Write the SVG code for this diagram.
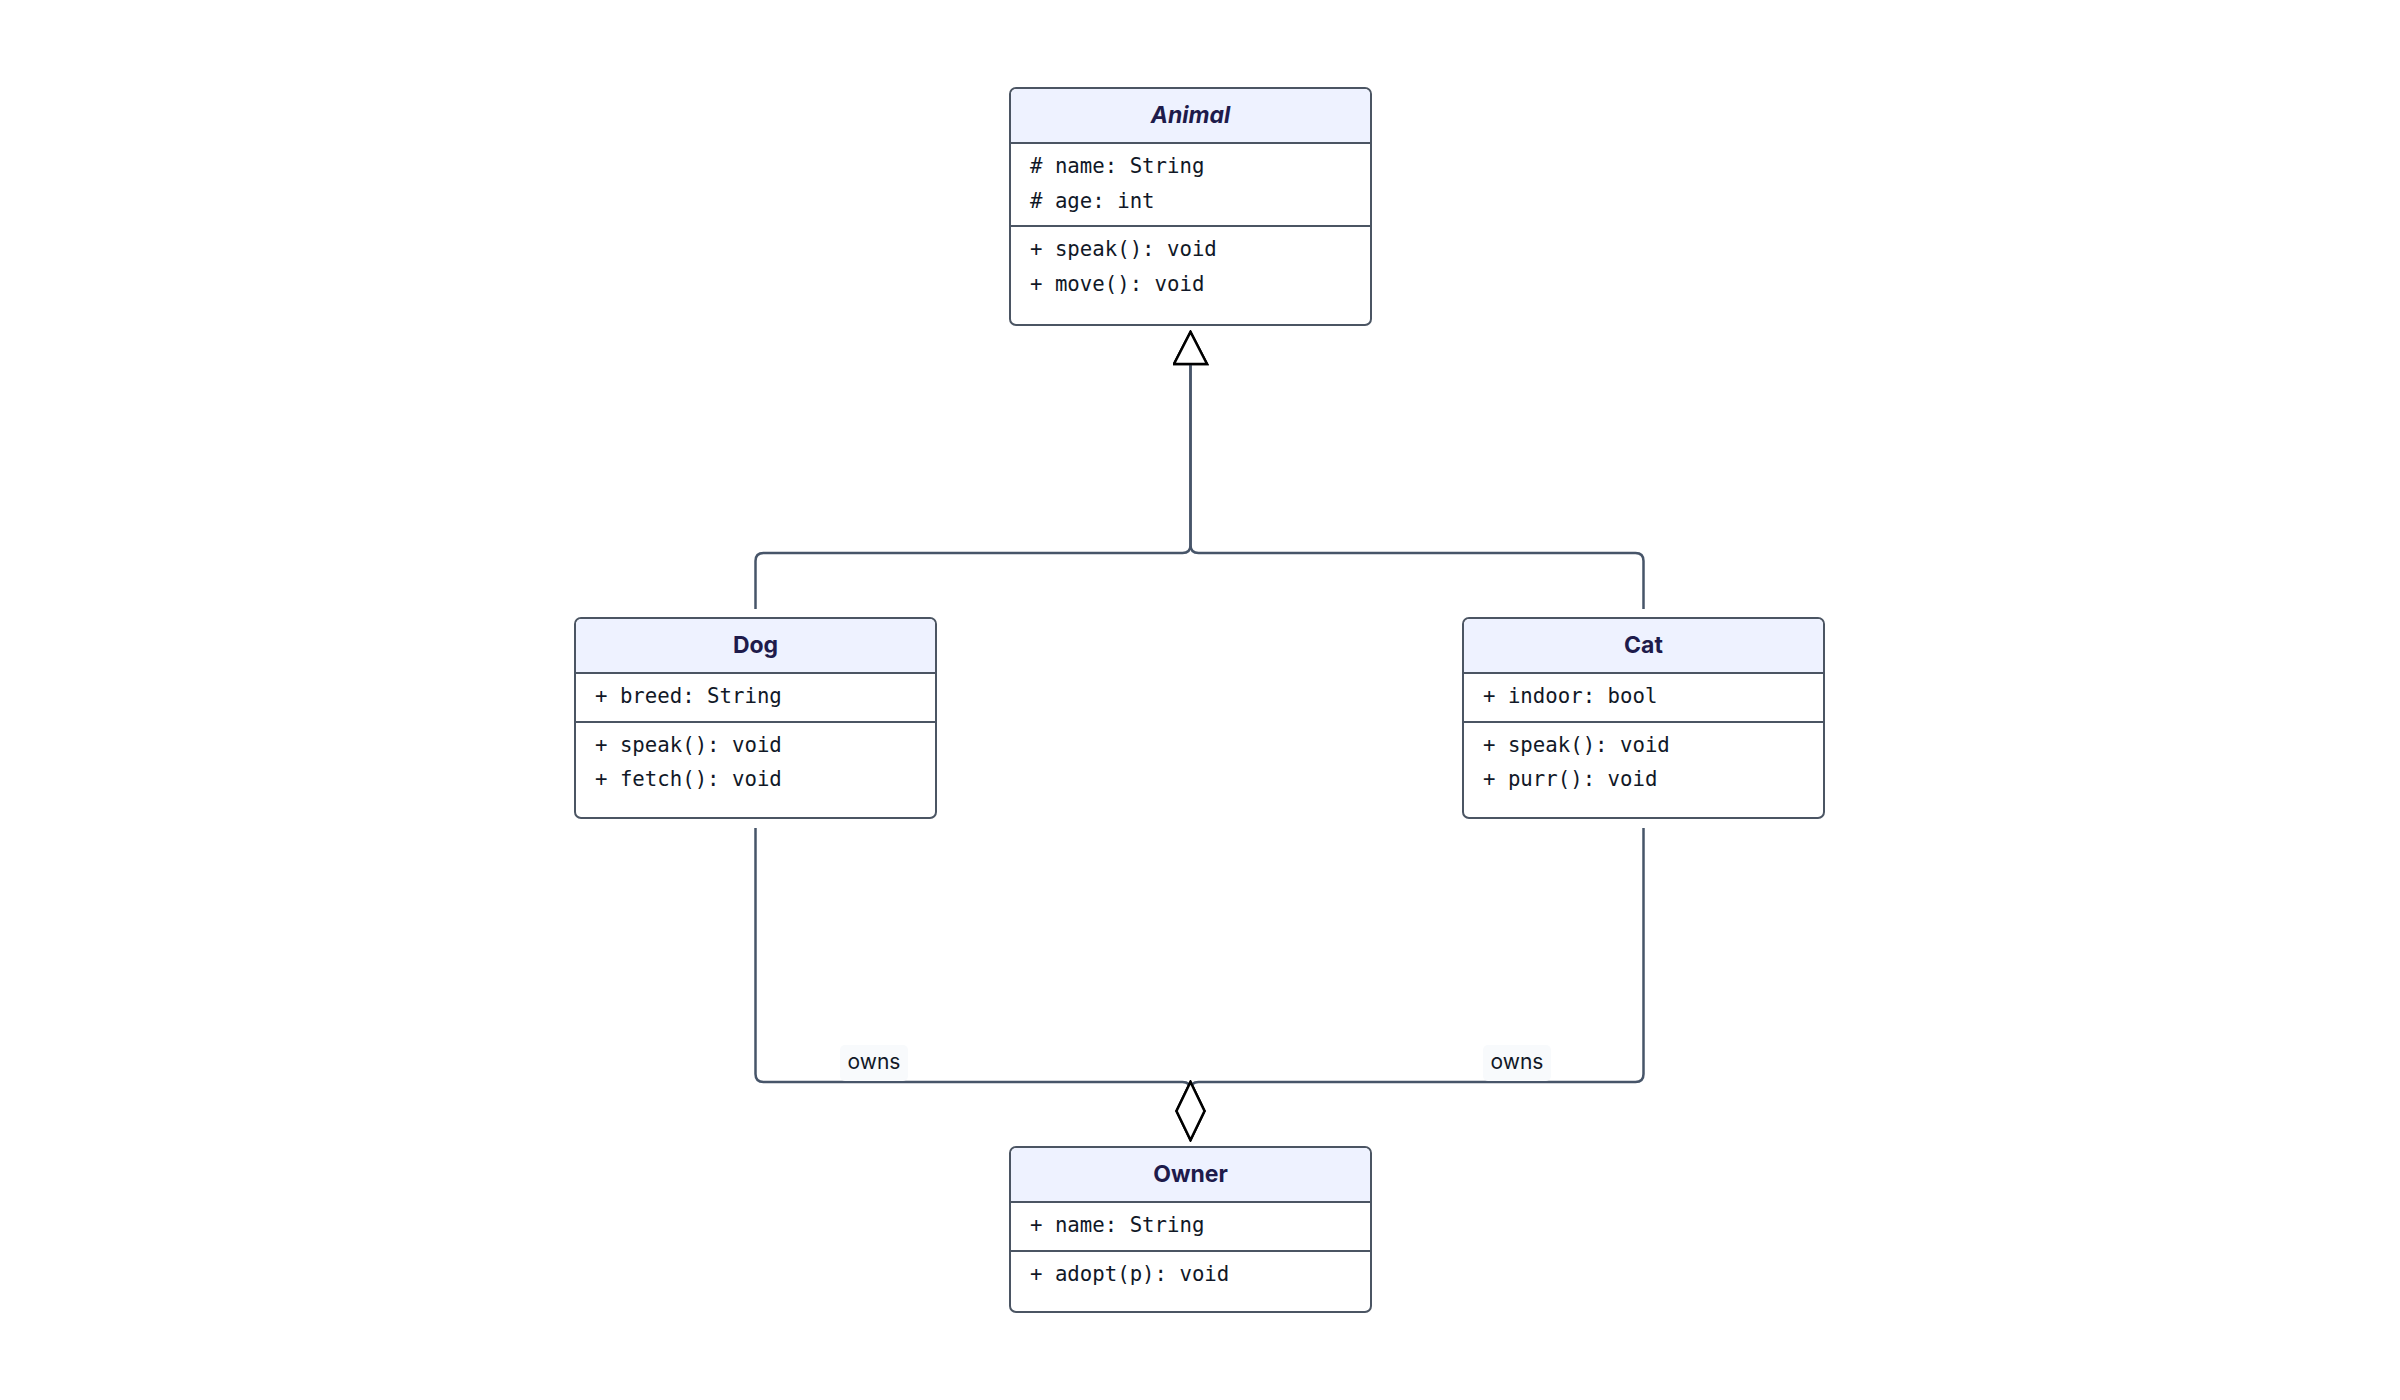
<svg xmlns="http://www.w3.org/2000/svg" width="2400" height="1400" viewBox="0 0 2400 1400">
<style>
.box{fill:#ffffff;stroke:#4b5563;stroke-width:2}
.hdr{fill:#eef2ff}
.div{stroke:#4b5563;stroke-width:2}
.title{font-family:Inter,"Liberation Sans",sans-serif;font-weight:700;font-size:23px;fill:#1e1b4b;text-anchor:middle}
.mem{font-family:"DejaVu Sans Mono","Liberation Mono",monospace;font-size:20.7px;fill:#111827}
.edge{fill:none;stroke:#475569;stroke-width:2.5}
.lblbg{fill:#f8fafc}
.lbl{font-family:Inter,"Liberation Sans",sans-serif;font-size:21px;fill:#111827;text-anchor:middle}
</style>
<defs>
<marker id="tri" markerUnits="userSpaceOnUse" viewBox="0 0 36 36" markerWidth="36" markerHeight="36" refX="34" refY="18" orient="auto">
<path d="M2,1.5 L34,18 L2,34.5 Z" fill="#ffffff" stroke="#000000" stroke-width="2.5" stroke-linejoin="miter"/>
</marker>
<marker id="dia" markerUnits="userSpaceOnUse" viewBox="0 0 62 32" markerWidth="62" markerHeight="32" refX="60" refY="16" orient="auto">
<path d="M2,16 L31,2 L60,16 L31,30 Z" fill="#ffffff" stroke="#000000" stroke-width="2.5"/>
</marker>
</defs>
<rect width="2400" height="1400" fill="#ffffff"/>
<g id="connectors">
<path class="edge" d="M755.5,609 V561 Q755.5,553 763.5,553 H1182.5 Q1190.5,553 1190.5,545 V332" marker-end="url(#tri)"/>
<path class="edge" d="M1643.5,609 V561 Q1643.5,553 1635.5,553 H1198.5 Q1190.5,553 1190.5,545 V332" marker-end="url(#tri)"/>
<path class="edge" d="M755.5,828 V1074 Q755.5,1082 763.5,1082 H1182.5 Q1190.5,1082 1190.5,1090 V1140" marker-end="url(#dia)"/>
<path class="edge" d="M1643.5,828 V1074 Q1643.5,1082 1635.5,1082 H1198.5 Q1190.5,1082 1190.5,1090 V1140" marker-end="url(#dia)"/>
<g id="label-dog-owner">
<rect class="lblbg" x="840" y="1045" width="68" height="36" rx="5"/>
<text class="lbl" x="874" y="1069">owns</text>
</g>
<g id="label-cat-owner">
<rect class="lblbg" x="1483" y="1045" width="68" height="36" rx="5"/>
<text class="lbl" x="1517" y="1069">owns</text>
</g>
</g>
<g id="node-animal">
<rect class="box" x="1010" y="88" width="361" height="237" rx="6"/>
<path class="hdr" d="M1011,143 V95 Q1011,89 1017,89 H1364 Q1370,89 1370,95 V143 Z"/>
<line class="div" x1="1010" y1="143" x2="1371" y2="143"/>
<line class="div" x1="1010" y1="226" x2="1371" y2="226"/>
<text class="title" x="1190.5" y="123" font-style="italic">Animal</text>
<text class="mem" x="1030" y="173"># name: String</text>
<text class="mem" x="1030" y="208"># age: int</text>
<text class="mem" x="1030" y="256">+ speak(): void</text>
<text class="mem" x="1030" y="291">+ move(): void</text>
</g>
<g id="node-dog">
<rect class="box" x="575" y="618" width="361" height="200" rx="6"/>
<path class="hdr" d="M576,673 V625 Q576,619 582,619 H929 Q935,619 935,625 V673 Z"/>
<line class="div" x1="575" y1="673" x2="936" y2="673"/>
<line class="div" x1="575" y1="722" x2="936" y2="722"/>
<text class="title" x="755.5" y="653">Dog</text>
<text class="mem" x="595" y="703">+ breed: String</text>
<text class="mem" x="595" y="752">+ speak(): void</text>
<text class="mem" x="595" y="786">+ fetch(): void</text>
</g>
<g id="node-cat">
<rect class="box" x="1463" y="618" width="361" height="200" rx="6"/>
<path class="hdr" d="M1464,673 V625 Q1464,619 1470,619 H1817 Q1823,619 1823,625 V673 Z"/>
<line class="div" x1="1463" y1="673" x2="1824" y2="673"/>
<line class="div" x1="1463" y1="722" x2="1824" y2="722"/>
<text class="title" x="1643.5" y="653">Cat</text>
<text class="mem" x="1483" y="703">+ indoor: bool</text>
<text class="mem" x="1483" y="752">+ speak(): void</text>
<text class="mem" x="1483" y="786">+ purr(): void</text>
</g>
<g id="node-owner">
<rect class="box" x="1010" y="1147" width="361" height="165" rx="6"/>
<path class="hdr" d="M1011,1202 V1154 Q1011,1148 1017,1148 H1364 Q1370,1148 1370,1154 V1202 Z"/>
<line class="div" x1="1010" y1="1202" x2="1371" y2="1202"/>
<line class="div" x1="1010" y1="1251" x2="1371" y2="1251"/>
<text class="title" x="1190.5" y="1182">Owner</text>
<text class="mem" x="1030" y="1232">+ name: String</text>
<text class="mem" x="1030" y="1281">+ adopt(p): void</text>
</g>
</svg>
